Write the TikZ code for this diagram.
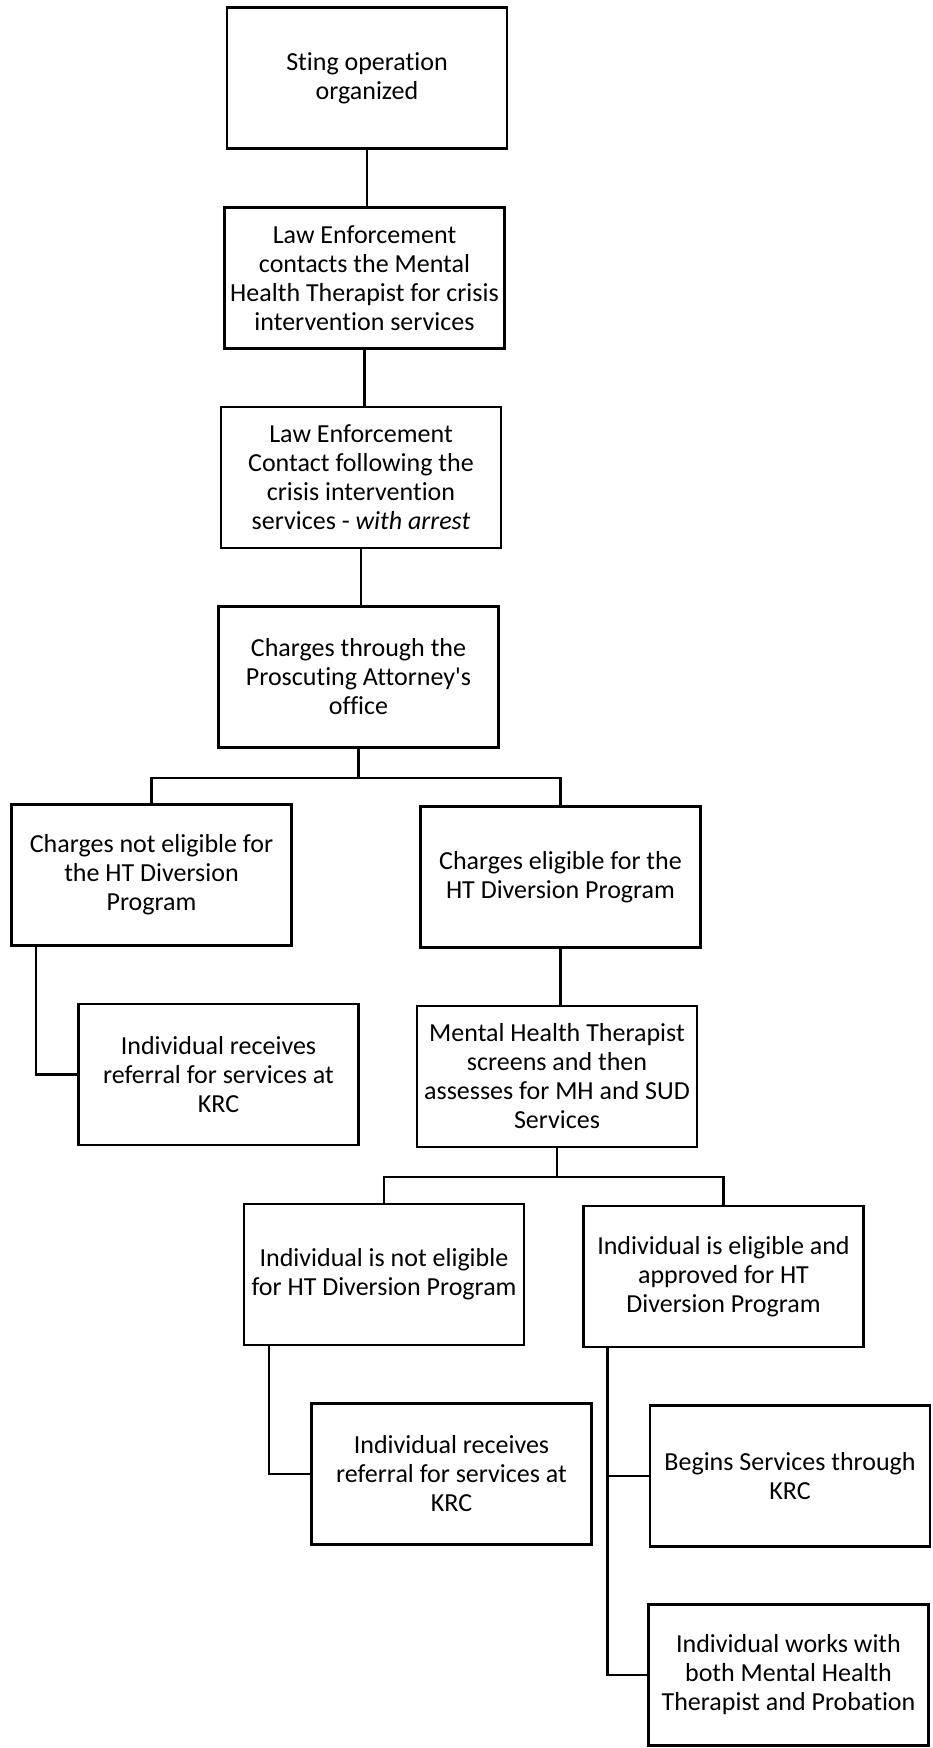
\documentclass[tikz,border=0pt]{standalone}
\usepackage{fontspec}
\setmainfont{Carlito}[Ligatures={NoCommon}]

\tikzset{every picture/.style={line width=0.75pt}}
\tikzset{
  stepbox/.style={draw, line width=2pt, rectangle, align=center, inner sep=1pt,
    minimum width=210pt, minimum height=105.75pt,
    font=\fontsize{19.5pt}{21.75pt}\selectfont},
  link/.style={line width=1.6pt}
}

\begin{document}
\begin{tikzpicture}[x=0.75pt,y=0.75pt,yscale=-1,xscale=1]
%set diagram left start at 0, and has height of 1748
\useasboundingbox (0,0) rectangle (932,1748);

%Shape: Rectangle [sting]
\node [stepbox] (sting) at (367,78) {Sting operation\\organized};
%Shape: Rectangle [lecall]
\node [stepbox] (lecall) at (364.5,278) {Law Enforcement\\contacts the Mental\\Health Therapist for crisis\\intervention services};
%Shape: Rectangle [learrest]
\node [stepbox] (learrest) at (361,477.5) {Law Enforcement\\Contact following the\\crisis intervention\\services - \textit{with arrest}};
%Shape: Rectangle [charges]
\node [stepbox] (charges) at (358.5,677) {Charges through the\\Proscuting Attorney\textquotesingle s\\office};
%Shape: Rectangle [notelig]
\node [stepbox] (notelig) at (151.5,875) {Charges not eligible for\\the HT Diversion\\Program};
%Shape: Rectangle [elig]
\node [stepbox] (elig) at (560.5,877) {Charges eligible for the\\HT Diversion Program};
%Shape: Rectangle [referA]
\node [stepbox] (referA) at (218.5,1074.5) {Individual receives\\referral for services at\\KRC};
%Shape: Rectangle [screen]
\node [stepbox] (screen) at (557,1076.5) {Mental Health Therapist\\screens and then\\assesses for MH and SUD\\Services};
%Shape: Rectangle [indnot]
\node [stepbox] (indnot) at (384,1274.5) {Individual is not eligible\\for HT Diversion Program};
%Shape: Rectangle [indok]
\node [stepbox] (indok) at (723.5,1276.5) {Individual is eligible and\\approved for HT\\Diversion Program};
%Shape: Rectangle [referB]
\node [stepbox] (referB) at (451.5,1474) {Individual receives\\referral for services at\\KRC};
%Shape: Rectangle [begins]
\node [stepbox] (begins) at (790,1476) {Begins Services through\\KRC};
%Shape: Rectangle [works]
\node [stepbox] (works) at (788.5,1675) {Individual works with\\both Mental Health\\Therapist and Probation};

%Straight Lines
\draw [link] (sting.south) -- (sting.south |- lecall.north);
\draw [link] (lecall.south) -- (lecall.south |- learrest.north);
\draw [link] (learrest.south) -- (learrest.south |- charges.north);
%Elbow connectors
\draw [link] (charges.south) -- ++(0,29) coordinate (forkA);
\draw [link] (forkA) -| (notelig.north);
\draw [link] (forkA) -| (elig.north);
\draw [link] ([xshift=19.5pt]notelig.south west) |- (referA.west);
\draw [link] (elig.south) -- (elig.south |- screen.north);
\draw [link] (screen.south) -- ++(0,28.5) coordinate (forkB);
\draw [link] (forkB) -| (indnot.north);
\draw [link] (forkB) -| (indok.north);
\draw [link] ([xshift=20pt]indnot.south west) |- (referB.west);
\draw [link] ([xshift=19pt]indok.south west) |- (works.west);
\draw [link] ([xshift=19pt]indok.south west |- begins.west) -- (begins.west);

\end{tikzpicture}
\end{document}
